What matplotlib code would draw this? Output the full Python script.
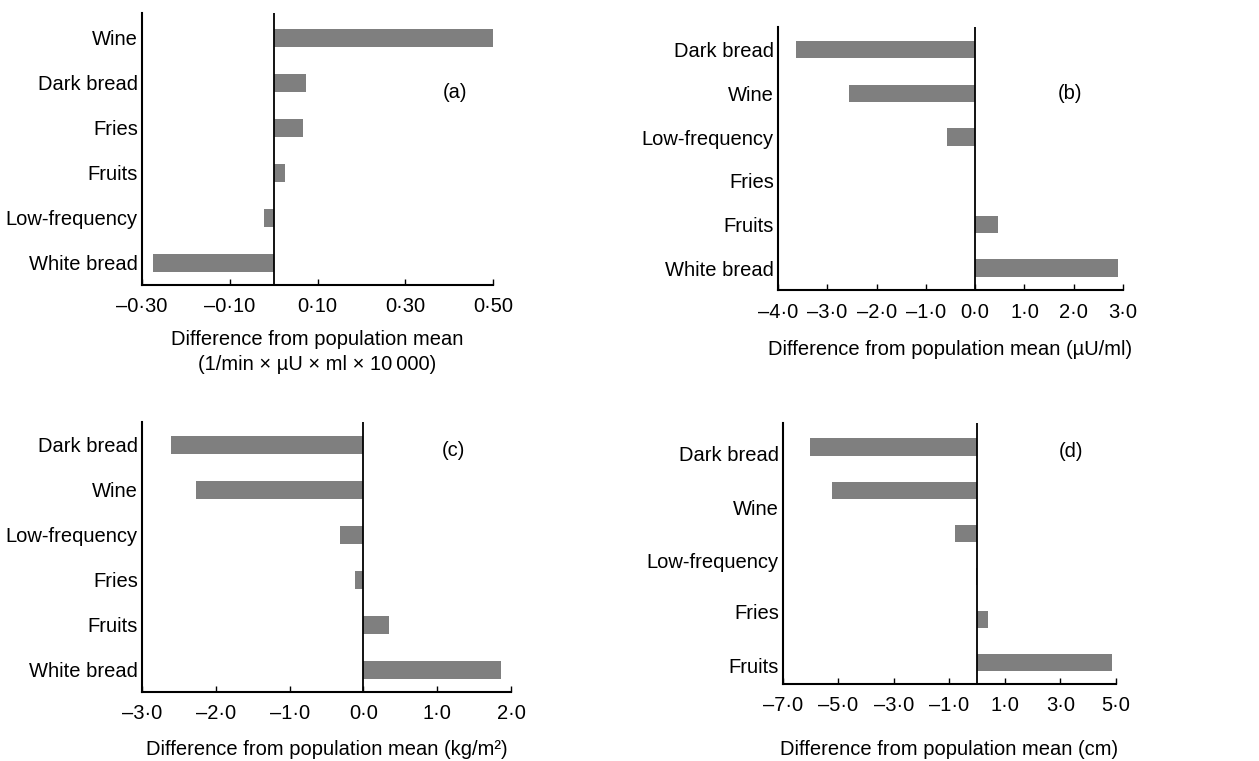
import numpy as np
import matplotlib.pyplot as plt

plt.rcParams['font.family'] = ['Liberation Sans', 'DejaVu Sans']

# panel (a): insulin AUC-ish
a_labels = ["Wine", "Dark bread", "Fries", "Fruits", "Low-frequency", "White bread"]
a_values = [0.51, 0.073, 0.066, 0.025, -0.023, -0.275]
a_ticks = [-0.30, -0.10, 0.10, 0.30, 0.50]

# panel (b): fasting insulin
b_labels = ["Dark bread", "Wine", "Low-frequency", "Fries", "Fruits", "White bread"]
b_values = [-3.64, -2.56, -0.57, 0.0, 0.47, 2.90]
b_ticks = [-4.0, -3.0, -2.0, -1.0, 0.0, 1.0, 2.0, 3.0]

# panel (c): BMI
c_labels = ["Dark bread", "Wine", "Low-frequency", "Fries", "Fruits", "White bread"]
c_values = [-2.61, -2.27, -0.32, -0.11, 0.34, 1.86]
c_ticks = [-3.0, -2.0, -1.0, 0.0, 1.0, 2.0]

# panel (d): waist -- 6 bars but only 5 labels in the original figure
d_labels = ["Dark bread", "Wine", "Low-frequency", "Fries", "Fruits"]
d_values = [-6.04, -5.24, -0.79, -0.06, 0.39, 4.87]
d_ticks = [-7.0, -5.0, -3.0, -1.0, 1.0, 3.0, 5.0]

GREY = "#7f7f7f"
FS = 14.5


def fmt(v, nd):
    s = f"{abs(v):.{nd}f}".replace(".", "\u00b7")
    return ("\u2013" + s) if v < 0 else s


def panel(rect, values, labels, ticks, nd, xlim, ylim, tag, tagpos, xlabel,
          lpad=10, label_pos=None):
    ax = fig.add_axes(rect)
    y = np.arange(len(values))
    ax.barh(y, values, height=0.4, color=GREY, zorder=2)
    ax.axvline(0, color="black", lw=1.3, zorder=3)
    if label_pos is None:
        label_pos = y
    ax.set_yticks(label_pos)
    ax.set_yticklabels(labels, fontsize=FS)
    ax.set_xticks(ticks)
    ax.set_xticklabels([fmt(t, nd) for t in ticks], fontsize=FS)
    ax.set_xlim(*xlim)
    ax.set_ylim(*ylim)
    ax.tick_params(axis="y", length=0, pad=3)
    ax.tick_params(axis="x", direction="in", length=4, width=1, pad=9)
    for s in ["top", "right"]:
        ax.spines[s].set_visible(False)
    for s in ["left", "bottom"]:
        ax.spines[s].set_linewidth(1.5)
    ax.text(tagpos[0], tagpos[1], tag, transform=ax.transAxes, fontsize=FS,
            ha="center", va="center")
    ax.set_xlabel(xlabel, fontsize=FS, labelpad=lpad, linespacing=1.4)
    return ax


fig = plt.figure(figsize=(12.59, 7.61), dpi=100)

panel([0.1128, 0.6255, 0.2788, 0.3574], a_values, a_labels, a_ticks, 2,
      (-0.30, 0.50), (5.49, -0.55), "(a)", (0.892, 0.706),
      "Difference from population mean\n(1/min \u00d7 \u00b5U \u00d7 ml \u00d7 10\u2009000)",
      lpad=10)

panel([0.6180, 0.6189, 0.2740, 0.3456], b_values, b_labels, b_ticks, 1,
      (-4.0, 3.0), (5.5, -0.52), "(b)", (0.846, 0.749),
      "Difference from population mean (\u00b5U/ml)", lpad=13)

panel([0.1128, 0.0907, 0.2931, 0.3548], c_values, c_labels, c_ticks, 1,
      (-3.0, 2.0), (5.49, -0.51), "(c)", (0.843, 0.896),
      "Difference from population mean (kg/m\u00b2)", lpad=12)

panel([0.6219, 0.1012, 0.2645, 0.3430], d_values, d_labels, d_ticks, 1,
      (-7.0, 5.0), (5.49, -0.56), "(d)", (0.865, 0.889),
      "Difference from population mean (cm)", lpad=18,
      label_pos=[0.14, 1.39, 2.62, 3.82, 5.05])

fig.savefig("out.png", dpi=100)
